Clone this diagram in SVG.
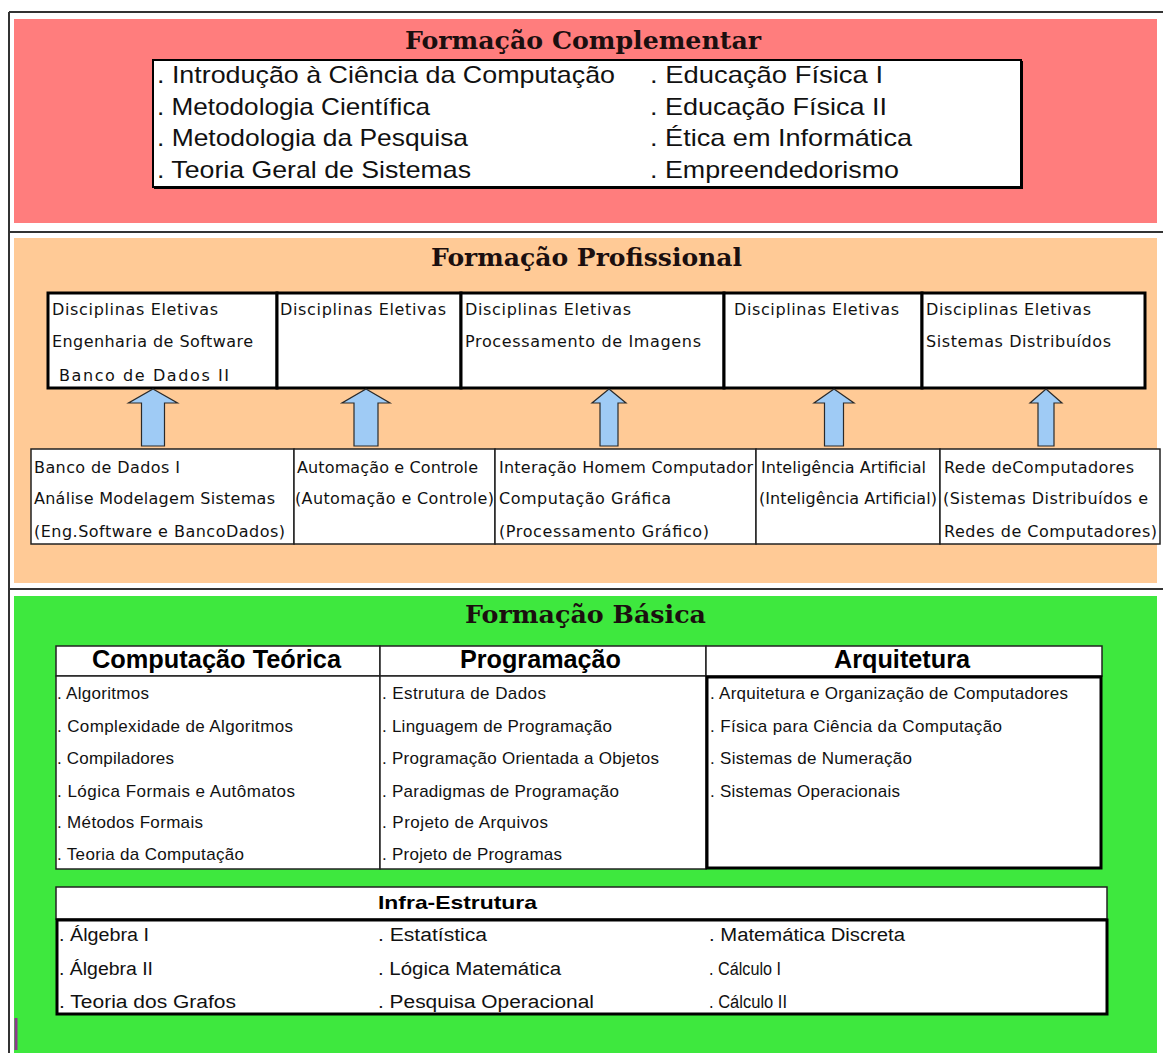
<svg xmlns="http://www.w3.org/2000/svg" width="1163" height="1053" viewBox="0 0 1163 1053">
<style>
.title{font-family:"DejaVu Serif","Liberation Serif",serif;font-weight:bold;font-size:25px;fill:#1b0f0f}
.comp{font-family:"Liberation Sans",Arial,sans-serif;font-size:24px;fill:#111}
.ms{font-family:"DejaVu Sans","Liberation Sans",sans-serif;font-size:16px;fill:#111}
.bas{font-family:"Liberation Sans",Arial,sans-serif;font-size:17px;fill:#111}
.hdr{font-family:"Liberation Sans",Arial,sans-serif;font-weight:bold;font-size:25px;fill:#000}
.inf{font-family:"Liberation Sans",Arial,sans-serif;font-size:18px;fill:#111}
.infh{font-family:"Liberation Sans",Arial,sans-serif;font-weight:bold;font-size:19px;fill:#000}
.frame{stroke:#333;stroke-width:2;fill:none}
.thick{fill:#fff;stroke:#000;stroke-width:3}
.thin{fill:#fff;stroke:#222;stroke-width:1.5}
.arrow{fill:#9fcbf5;stroke:#2a2a2a;stroke-width:1.2;stroke-linejoin:miter}
</style>
<rect x="0" y="0" width="1163" height="1053" fill="#fff"/>
<rect x="14" y="19" width="1143" height="204" fill="#ff7d7d"/>
<rect x="14" y="238" width="1143" height="345" fill="#ffca96"/>
<rect x="14" y="596" width="1143" height="457" fill="#3ee83e"/>
<g id="frame">
<line class="frame" x1="9" y1="12" x2="1163" y2="12"/>
<line class="frame" x1="9" y1="12" x2="9" y2="1053"/>
<line class="frame" x1="9" y1="232" x2="1163" y2="232"/>
<line class="frame" x1="9" y1="589" x2="1163" y2="589"/>
<line x1="16" y1="1018" x2="16" y2="1050" stroke="#8b3a8b" stroke-width="3"/>
</g>

<g id="complementar">
<text class="title" x="405" y="49" textLength="356" lengthAdjust="spacingAndGlyphs">Formação Complementar</text>
<rect x="153" y="60" width="868" height="127" fill="#fff" stroke="#000" stroke-width="2"/>
<line x1="1022" y1="61" x2="1022" y2="188" stroke="#000" stroke-width="2"/>
<line x1="154" y1="188" x2="1023" y2="188" stroke="#000" stroke-width="2"/>
<text class="comp" x="157" y="83" textLength="458" lengthAdjust="spacingAndGlyphs">. Introdução à Ciência da Computação</text>
<text class="comp" x="157" y="115" textLength="273" lengthAdjust="spacingAndGlyphs">. Metodologia Científica</text>
<text class="comp" x="157" y="146" textLength="311" lengthAdjust="spacingAndGlyphs">. Metodologia da Pesquisa</text>
<text class="comp" x="157" y="178" textLength="314" lengthAdjust="spacingAndGlyphs">. Teoria Geral de Sistemas</text>
<text class="comp" x="650" y="83" textLength="233" lengthAdjust="spacingAndGlyphs">. Educação Física I</text>
<text class="comp" x="650" y="115" textLength="237" lengthAdjust="spacingAndGlyphs">. Educação Física II</text>
<text class="comp" x="650" y="146" textLength="262" lengthAdjust="spacingAndGlyphs">. Ética em Informática</text>
<text class="comp" x="650" y="178" textLength="249" lengthAdjust="spacingAndGlyphs">. Empreendedorismo</text>
</g>

<text class="title" x="431" y="266" textLength="311" lengthAdjust="spacingAndGlyphs">Formação Profissional</text>

<g id="eletivas-1">
<rect class="thick" x="48" y="293" width="229" height="95"/>
<text class="ms" x="52" y="315" textLength="166" lengthAdjust="spacing">Disciplinas Eletivas</text>
<text class="ms" x="52" y="347" textLength="201" lengthAdjust="spacing">Engenharia de Software</text>
<text class="ms" x="59" y="381" textLength="170" lengthAdjust="spacing">Banco de Dados II</text>
</g>
<g id="eletivas-2">
<rect class="thick" x="277" y="293" width="184" height="95"/>
<text class="ms" x="280" y="315" textLength="166" lengthAdjust="spacing">Disciplinas Eletivas</text>
</g>
<g id="eletivas-3">
<rect class="thick" x="461" y="293" width="263" height="95"/>
<text class="ms" x="465" y="315" textLength="166" lengthAdjust="spacing">Disciplinas Eletivas</text>
<text class="ms" x="465" y="347" textLength="236" lengthAdjust="spacing">Processamento de Imagens</text>
</g>
<g id="eletivas-4">
<rect class="thick" x="724" y="293" width="198" height="95"/>
<text class="ms" x="734" y="315" textLength="165" lengthAdjust="spacing">Disciplinas Eletivas</text>
</g>
<g id="eletivas-5">
<rect class="thick" x="922" y="293" width="223" height="95"/>
<text class="ms" x="926" y="315" textLength="165" lengthAdjust="spacing">Disciplinas Eletivas</text>
<text class="ms" x="926" y="347" textLength="185" lengthAdjust="spacing">Sistemas Distribuídos</text>
</g>

<g id="base-1">
<rect class="thin" x="31" y="449" width="263" height="95"/>
<text class="ms" x="34" y="473" textLength="146" lengthAdjust="spacing">Banco de Dados I</text>
<text class="ms" x="34" y="504" textLength="241" lengthAdjust="spacing">Análise Modelagem Sistemas</text>
<text class="ms" x="34" y="537" textLength="251" lengthAdjust="spacing">(Eng.Software e BancoDados)</text>
</g>
<g id="base-2">
<rect class="thin" x="294" y="449" width="201" height="95"/>
<text class="ms" x="297" y="473" textLength="181" lengthAdjust="spacing">Automação e Controle</text>
<text class="ms" x="295" y="504" textLength="199" lengthAdjust="spacing">(Automação e Controle)</text>
</g>
<g id="base-3">
<rect class="thin" x="495" y="449" width="261" height="95"/>
<text class="ms" x="499" y="473" textLength="254" lengthAdjust="spacing">Interação Homem Computador</text>
<text class="ms" x="499" y="504" textLength="172" lengthAdjust="spacing">Computação Gráfica</text>
<text class="ms" x="499" y="537" textLength="210" lengthAdjust="spacing">(Processamento Gráfico)</text>
</g>
<g id="base-4">
<rect class="thin" x="756" y="449" width="184" height="95"/>
<text class="ms" x="761" y="473" textLength="165" lengthAdjust="spacing">Inteligência Artificial</text>
<text class="ms" x="759" y="504" textLength="178" lengthAdjust="spacing">(Inteligência Artificial)</text>
</g>
<g id="base-5">
<rect class="thin" x="940" y="449" width="220" height="95"/>
<text class="ms" x="944" y="473" textLength="190" lengthAdjust="spacing">Rede deComputadores</text>
<text class="ms" x="943" y="504" textLength="205" lengthAdjust="spacing">(Sistemas Distribuídos e</text>
<text class="ms" x="944" y="537" textLength="213" lengthAdjust="spacing">Redes de Computadores)</text>
</g>

<g id="connectors">
<polygon class="arrow" points="153,389 177.5,403 164.5,403 164.5,446 141.5,446 141.5,403 128.5,403"/>
<polygon class="arrow" points="366,389 390,403 378,403 378,446 354,446 354,403 342,403"/>
<polygon class="arrow" points="609,389 626,403 618,403 618,446 600,446 600,403 592,403"/>
<polygon class="arrow" points="834,389 854,403 843.5,403 843.5,446 824.5,446 824.5,403 814,403"/>
<polygon class="arrow" points="1046,389 1062,403 1054,403 1054,446 1038,446 1038,403 1030,403"/>
</g>

<text class="title" x="465" y="623" textLength="241" lengthAdjust="spacingAndGlyphs">Formação Básica</text>

<g id="computacao-teorica">
<rect class="thin" x="56" y="646" width="324" height="30"/>
<rect class="thin" x="56" y="676" width="324" height="193"/>
<text class="hdr" x="92" y="668" textLength="249" lengthAdjust="spacingAndGlyphs">Computação Teórica</text>
<text class="bas" x="57" y="699" textLength="92" lengthAdjust="spacing">. Algoritmos</text>
<text class="bas" x="57" y="732" textLength="236" lengthAdjust="spacing">. Complexidade de Algoritmos</text>
<text class="bas" x="57" y="764" textLength="117" lengthAdjust="spacing">. Compiladores</text>
<text class="bas" x="57" y="797" textLength="238" lengthAdjust="spacing">. Lógica Formais e Autômatos</text>
<text class="bas" x="57" y="828" textLength="146" lengthAdjust="spacing">. Métodos Formais</text>
<text class="bas" x="57" y="860" textLength="187" lengthAdjust="spacing">. Teoria da Computação</text>
</g>
<g id="programacao">
<rect class="thin" x="380" y="646" width="326" height="30"/>
<rect class="thin" x="380" y="676" width="326" height="193"/>
<text class="hdr" x="460" y="668" textLength="161" lengthAdjust="spacingAndGlyphs">Programação</text>
<text class="bas" x="382" y="699" textLength="164" lengthAdjust="spacing">. Estrutura de Dados</text>
<text class="bas" x="382" y="732" textLength="230" lengthAdjust="spacing">. Linguagem de Programação</text>
<text class="bas" x="382" y="764" textLength="277" lengthAdjust="spacing">. Programação Orientada a Objetos</text>
<text class="bas" x="382" y="797" textLength="237" lengthAdjust="spacing">. Paradigmas de Programação</text>
<text class="bas" x="382" y="828" textLength="166" lengthAdjust="spacing">. Projeto de Arquivos</text>
<text class="bas" x="382" y="860" textLength="180" lengthAdjust="spacing">. Projeto de Programas</text>
</g>
<g id="arquitetura">
<rect class="thin" x="706" y="646" width="396" height="30"/>
<rect class="thick" x="707" y="677" width="394" height="191"/>
<text class="hdr" x="834" y="668" textLength="136" lengthAdjust="spacingAndGlyphs">Arquitetura</text>
<text class="bas" x="710" y="699" textLength="358" lengthAdjust="spacing">. Arquitetura e Organização de Computadores</text>
<text class="bas" x="710" y="732" textLength="292" lengthAdjust="spacing">. Física para Ciência da Computação</text>
<text class="bas" x="710" y="764" textLength="202" lengthAdjust="spacing">. Sistemas de Numeração</text>
<text class="bas" x="710" y="797" textLength="190" lengthAdjust="spacing">. Sistemas Operacionais</text>
</g>

<g id="infra-estrutura">
<rect class="thin" x="56" y="887" width="1051" height="32"/>
<rect class="thick" x="57" y="920" width="1050" height="94"/>
<text class="infh" x="378" y="909" textLength="159" lengthAdjust="spacingAndGlyphs">Infra-Estrutura</text>
<text class="inf" x="59" y="941" textLength="90" lengthAdjust="spacingAndGlyphs">. Álgebra I</text>
<text class="inf" x="59" y="975" textLength="94" lengthAdjust="spacingAndGlyphs">. Álgebra II</text>
<text class="inf" x="59" y="1008" textLength="177" lengthAdjust="spacingAndGlyphs">. Teoria dos Grafos</text>
<text class="inf" x="378" y="941" textLength="109" lengthAdjust="spacingAndGlyphs">. Estatística</text>
<text class="inf" x="378" y="975" textLength="183" lengthAdjust="spacingAndGlyphs">. Lógica Matemática</text>
<text class="inf" x="378" y="1008" textLength="216" lengthAdjust="spacingAndGlyphs">. Pesquisa Operacional</text>
<text class="inf" x="709" y="941" textLength="196" lengthAdjust="spacingAndGlyphs">. Matemática Discreta</text>
<text class="inf" x="709" y="975" textLength="72" lengthAdjust="spacingAndGlyphs">. Cálculo I</text>
<text class="inf" x="709" y="1008" textLength="78" lengthAdjust="spacingAndGlyphs">. Cálculo II</text>
</g>
</svg>
